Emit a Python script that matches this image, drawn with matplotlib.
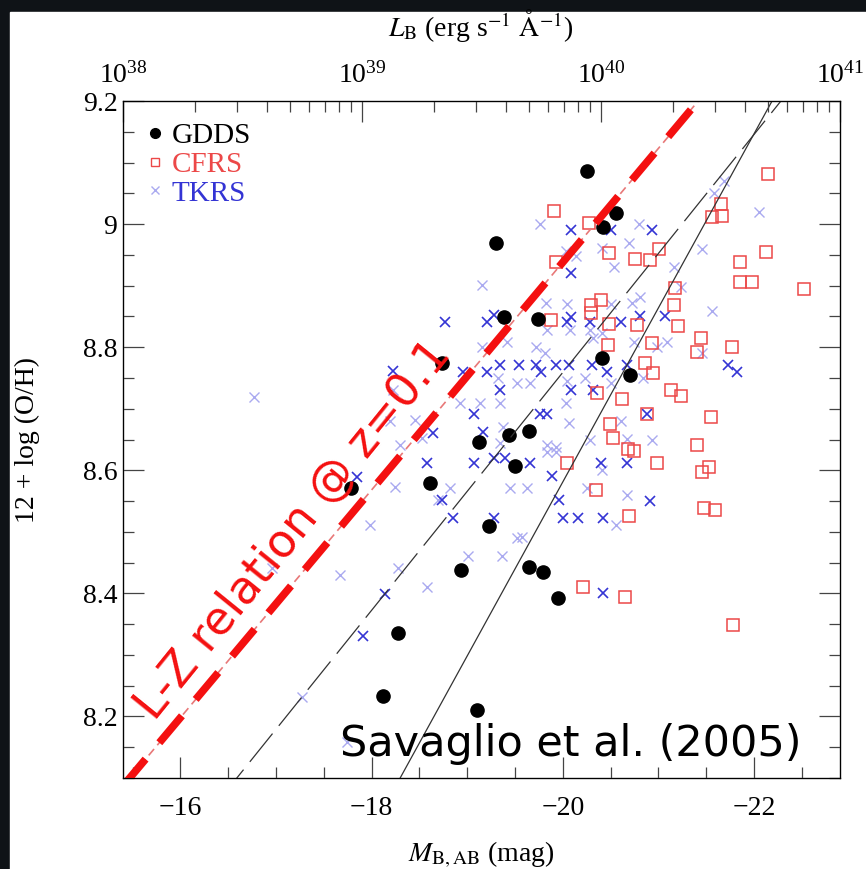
import numpy as np
import matplotlib.pyplot as plt
from matplotlib.ticker import MultipleLocator, FormatStrFormatter, LogLocator
from matplotlib.patches import Rectangle

plt.rcParams.update({
    "font.family": "serif",
    "font.serif": ["Liberation Serif", "DejaVu Serif"],
    "mathtext.fontset": "stix",
})

# ============================================================
# Data
# ============================================================

GDDS_M = [-20.25, -20.56, -20.42, -19.30, -19.39, -19.74, -18.74, -20.41,
          -20.70, -19.12, -19.44, -19.65, -19.50, -19.23, -18.94, -19.65,
          -19.79, -19.95, -17.78, -18.61, -18.28, -18.12, -19.10]
GDDS_OH = [9.086, 9.018, 8.995, 8.969, 8.849, 8.846, 8.774, 8.782,
           8.755, 8.646, 8.657, 8.664, 8.607, 8.509, 8.438, 8.443,
           8.435, 8.392, 8.571, 8.579, 8.336, 8.233, 8.210]

CFRS_M = [-19.91, -20.27, -22.15, -21.66, -21.56, -21.67, -20.48, -19.93,
          -20.76, -20.91, -21.01, -22.13, -21.85, -21.85, -21.98, -22.52,
          -21.17, -20.40, -20.30, -20.30, -21.16, -19.88, -20.48, -20.78,
          -21.21, -21.45, -20.47, -20.93, -21.77, -21.40, -20.86, -20.94,
          -21.13, -21.24, -20.36, -20.62, -21.55, -20.88, -20.49, -20.53,
          -20.68, -20.75, -20.99, -20.04, -21.40, -21.53, -21.46, -20.35,
          -20.69, -21.48, -21.59, -20.21, -20.65, -21.78]
CFRS_OH = [9.021, 9.002, 9.081, 9.033, 9.011, 9.013, 8.953, 8.938,
           8.943, 8.942, 8.959, 8.955, 8.938, 8.906, 8.906, 8.894,
           8.896, 8.877, 8.868, 8.855, 8.868, 8.844, 8.838, 8.836,
           8.834, 8.815, 8.804, 8.807, 8.800, 8.792, 8.774, 8.758,
           8.730, 8.721, 8.726, 8.716, 8.687, 8.691, 8.675, 8.652,
           8.635, 8.631, 8.612, 8.612, 8.641, 8.605, 8.597, 8.568,
           8.526, 8.539, 8.535, 8.410, 8.394, 8.349]

# TKRS, strong symbols
TKRS_M = [-20.09, -20.50, -20.93, -20.09, -18.77, -19.21, -20.04, -20.29,
          -20.61, -19.28, -20.09, -20.81, -21.07, -19.34, -19.54, -19.72,
          -19.93, -20.07, -20.31, -18.96, -19.21, -19.77, -20.46, -20.67,
          -21.73, -21.82, -19.34, -20.09, -20.32, -19.07, -19.76, -19.84,
          -20.88, -19.17, -19.07, -19.28, -19.40, -19.66, -19.89, -19.96,
          -18.74, -18.85, -19.28, -20.00, -20.16, -20.42, -20.40, -20.67,
          -20.91, -20.42, -18.22, -18.58, -18.64, -17.85, -18.14, -17.91]
TKRS_OH = [8.990, 8.990, 8.990, 8.920, 8.841, 8.841, 8.841, 8.841,
           8.841, 8.852, 8.849, 8.851, 8.851, 8.771, 8.771, 8.771,
           8.771, 8.771, 8.771, 8.760, 8.760, 8.760, 8.760, 8.771,
           8.771, 8.760, 8.730, 8.730, 8.730, 8.691, 8.691, 8.691,
           8.691, 8.662, 8.612, 8.620, 8.620, 8.612, 8.591, 8.552,
           8.552, 8.522, 8.522, 8.522, 8.522, 8.522, 8.612, 8.612,
           8.550, 8.401, 8.761, 8.612, 8.661, 8.589, 8.399, 8.331]

# TKRS, faint symbols
TKRS_FAINT_M = [-19.76, -20.80, -20.41, -20.69, -20.03, -20.14, -20.54, -21.16,
                -21.46, -21.69, -21.58, -22.05, -19.16, -19.82, -20.04, -20.50,
                -20.72, -20.81, -21.24, -21.56, -19.83, -20.08, -20.29, -19.42,
                -19.72, -19.16, -19.81, -20.32, -20.41, -20.75, -21.09, -21.46,
                -20.99, -19.52, -19.32, -20.04, -20.23, -20.50, -19.66, -18.93,
                -19.13, -19.34, -20.03, -20.07, -19.37, -19.34, -19.83, -19.93,
                -19.83, -19.93, -20.41, -20.25, -19.45, -19.63, -18.82, -20.67,
                -20.56, -19.52, -19.57, -19.01, -19.36, -20.61, -20.67, -20.93,
                -20.29, -20.84, -16.77, -18.22, -18.30, -18.45, -18.53, -18.19,
                -18.25, -17.98, -16.96, -17.67, -18.28, -18.58, -17.27, -17.74,
                -18.70]
TKRS_FAINT_OH = [9.000, 9.000, 8.961, 8.969, 8.956, 8.948, 8.930, 8.930,
                 8.959, 9.070, 9.050, 9.020, 8.901, 8.872, 8.870, 8.870,
                 8.872, 8.881, 8.898, 8.859, 8.828, 8.828, 8.828, 8.808,
                 8.800, 8.800, 8.790, 8.815, 8.823, 8.808, 8.808, 8.790,
                 8.800, 8.742, 8.750, 8.745, 8.750, 8.742, 8.742, 8.709,
                 8.709, 8.709, 8.709, 8.677, 8.670, 8.644, 8.641, 8.638,
                 8.630, 8.630, 8.600, 8.572, 8.572, 8.572, 8.572, 8.560,
                 8.511, 8.490, 8.492, 8.461, 8.461, 8.680, 8.651, 8.649,
                 8.649, 8.750, 8.719, 8.730, 8.641, 8.682, 8.652, 8.680,
                 8.573, 8.511, 8.441, 8.430, 8.441, 8.410, 8.232, 8.158,
                 8.552]

# linear relations: 12+log(O/H) = slope * M + intercept
LZ_LOCAL = (-0.185, 5.238)
LZ_DASHED = (-0.1933, 4.893)
LZ_SOLID = (-0.2828, 2.925)

M_RANGE = (-15.4, -22.9)
OH_RANGE = (8.1, 9.2)


def log_lum(m):
    # B-band luminosity for the top axis, 1e38 at the left edge
    return 38.0 - 0.4 * (m - M_RANGE[0])


# ============================================================
# Figure
# ============================================================

fig = plt.figure(figsize=(8.66, 8.69), dpi=100)
fig.patch.set_facecolor("#0f1317")
fig.add_artist(Rectangle((10 / 866, 0), 1, 1 - 12 / 869,
                         transform=fig.transFigure, color="white", zorder=-10))

ax = fig.add_axes([0.142, 0.1047, 0.828, 0.779])

c_red = "#ec4848"
c_blue = "#3434d4"
c_blue_faint = "#aaaaf0"

ax.plot(TKRS_FAINT_M, TKRS_FAINT_OH, ls="none", marker="x", ms=7.5, mew=1.0,
        color=c_blue_faint, zorder=2)
ax.plot(TKRS_M, TKRS_OH, ls="none", marker="x", ms=7.5, mew=1.2,
        color=c_blue, zorder=3)
ax.plot(CFRS_M, CFRS_OH, ls="none", marker="s", ms=8, mew=1.1,
        mfc="none", mec=c_red, zorder=4)
ax.plot(GDDS_M, GDDS_OH, ls="none", marker="o", ms=9.5, color="black",
        zorder=5)

m_line = np.linspace(M_RANGE[0], M_RANGE[1], 50)

s, b = LZ_SOLID
ax.plot(m_line, s * m_line + b, color="#333333", lw=0.9, zorder=6)
s, b = LZ_DASHED
ax.plot(m_line, s * m_line + b, color="#333333", lw=0.9,
        dashes=(29, 8), zorder=6)
s, b = LZ_LOCAL
ax.plot(m_line, s * m_line + b, color="#e87878", lw=1.2,
        dashes=(5, 3), zorder=7)
ax.plot(m_line, s * m_line + b, color="#f41010", lw=5.5,
        dashes=(4.6, 2.8), zorder=8)

ax.set_xlim(M_RANGE)
ax.set_ylim(OH_RANGE)

ax.xaxis.set_major_locator(MultipleLocator(2))
ax.xaxis.set_minor_locator(MultipleLocator(0.5))
ax.yaxis.set_major_locator(MultipleLocator(0.2))
ax.yaxis.set_minor_locator(MultipleLocator(0.05))
ax.yaxis.set_major_formatter(FormatStrFormatter("%g"))
ax.xaxis.set_major_formatter(lambda v, p: "\u2212%g" % abs(v))

ax.tick_params(which="both", direction="in", right=True, top=False,
               color="#444444", width=0.9, labelsize=20)
ax.tick_params(which="major", length=15)
ax.tick_params(which="minor", length=8)
ax.tick_params(axis="x", pad=13)
ax.tick_params(axis="y", pad=4)
for sp in ax.spines.values():
    sp.set_color("#555555")
    sp.set_linewidth(1.0)

ax2 = ax.twiny()
ax2.set_xscale("log")
ax2.set_xlim(10 ** log_lum(M_RANGE[0]), 10 ** log_lum(M_RANGE[1]))
ax2.xaxis.set_major_locator(LogLocator(base=10))
ax2.xaxis.set_minor_locator(LogLocator(base=10, subs=np.arange(2, 10)))
ax2.tick_params(which="both", direction="in", color="#444444", width=0.9,
                labelsize=20, pad=9)
ax2.tick_params(which="major", length=15)
ax2.tick_params(which="minor", length=8)

# legend
h_g, = ax.plot([], [], ls="none", marker="o", ms=7, color="black")
h_c, = ax.plot([], [], ls="none", marker="s", ms=5.5, mfc="none",
               mec=c_red, mew=1.0)
h_t, = ax.plot([], [], ls="none", marker="x", ms=6, color=c_blue_faint,
               mew=1.0)
leg = ax.legend([h_g, h_c, h_t], ["GDDS", "CFRS", "TKRS"], loc="upper left",
                bbox_to_anchor=(0.035, 0.968), frameon=False, fontsize=21,
                handlelength=0.5, handletextpad=0.3, labelspacing=0.08,
                borderpad=0, borderaxespad=0)
for txt, col in zip(leg.get_texts(), ["black", c_red, c_blue]):
    txt.set_color(col)

# axis titles
fig.text(481 / 866, 1 - 25 / 869,
         r"$L_{\rm B}$ (erg s$^{-1}$ $\mathrm{\AA}^{-1}$)",
         ha="center", va="center", fontsize=20)
fig.text(481 / 866, 1 - 855 / 869, r"$M_{\rm B,AB}$ (mag)",
         ha="center", va="center", fontsize=20)
fig.text(27 / 866, 1 - 440 / 869, "12 + log (O/H)", rotation=90,
         ha="center", va="center", fontsize=20)

# annotations
ax.text(0.625, 0.05, "Savaglio et al. (2005)", transform=ax.transAxes,
        ha="center", va="center", fontsize=31, family="DejaVu Sans",
        color="black", zorder=9)
fig.text(294 / 866, 1 - 530 / 869, "L-Z relation @ z=0.1", rotation=51,
         rotation_mode="anchor", ha="center", va="center", fontsize=33,
         family="DejaVu Sans", color="#f41010", zorder=9)

fig.savefig("out.png", dpi=100, facecolor=fig.get_facecolor())
